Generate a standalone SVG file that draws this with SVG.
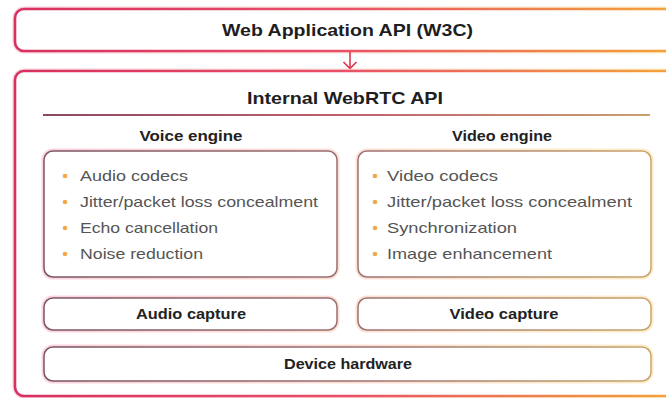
<svg xmlns="http://www.w3.org/2000/svg" width="666" height="398" viewBox="0 0 666 398">
<defs>
<linearGradient id="gMain" gradientUnits="userSpaceOnUse" x1="15" y1="0" x2="666" y2="0">
<stop offset="0" stop-color="#d8305f"/>
<stop offset="0.5" stop-color="#e8506a"/>
<stop offset="1" stop-color="#f3a23a"/>
</linearGradient>
<linearGradient id="gInner" gradientUnits="userSpaceOnUse" x1="44" y1="0" x2="651" y2="0">
<stop offset="0" stop-color="#7a5563"/>
<stop offset="0.5" stop-color="#9a7072"/>
<stop offset="1" stop-color="#c9a46e"/>
</linearGradient>
<linearGradient id="gGlow" gradientUnits="userSpaceOnUse" x1="15" y1="0" x2="666" y2="0">
<stop offset="0" stop-color="#f7b4c8"/>
<stop offset="1" stop-color="#fbe2a8"/>
</linearGradient>
<linearGradient id="gDiv" gradientUnits="userSpaceOnUse" x1="43" y1="0" x2="650" y2="0">
<stop offset="0" stop-color="#8a4a5e"/>
<stop offset="0.5" stop-color="#c06070"/>
<stop offset="1" stop-color="#c9a070"/>
</linearGradient>
<marker id="arr" markerWidth="16" markerHeight="16" refX="11" refY="8" orient="auto" markerUnits="userSpaceOnUse">
<path d="M4,1.5 L10.5,8 L4,14.5" fill="none" stroke="#e0364f" stroke-width="1.7"/>
</marker>
</defs>
<style>
.outer{fill:#fff;stroke:url(#gMain);stroke-width:2.6}
.glow{fill:none;stroke:url(#gGlow);stroke-width:5;opacity:0.6}
.inner{fill:#fff;stroke:url(#gInner);stroke-width:1.5}
.title{font-family:"Liberation Sans",Arial,sans-serif;font-weight:bold;font-size:17px;fill:#1e1e1e;text-anchor:middle}
.sub{font-family:"Liberation Sans",Arial,sans-serif;font-weight:bold;font-size:15px;fill:#222;text-anchor:middle}
.item{font-family:"Liberation Sans",Arial,sans-serif;font-size:15px;fill:#555}
.dot{fill:#f2a84a}
</style>
<rect width="666" height="398" fill="#fff"/>

<g id="web-app-api">
<rect class="glow" x="15" y="9" width="670" height="42" rx="9"/>
<rect class="outer" x="15" y="9" width="670" height="42" rx="9"/>
<text class="title" x="347.5" y="36" textLength="251" lengthAdjust="spacingAndGlyphs">Web Application API (W3C)</text>
</g>

<g id="connectors">
<line x1="350" y1="52" x2="350" y2="69" stroke="#e0364f" stroke-width="1.6" marker-end="url(#arr)"/>
</g>

<g id="internal-webrtc">
<rect class="glow" x="15" y="71" width="670" height="325" rx="9"/>
<rect class="outer" x="15" y="71" width="670" height="325" rx="9"/>
<text class="title" x="345" y="104" textLength="196" lengthAdjust="spacingAndGlyphs">Internal WebRTC API</text>
<line x1="43" y1="115" x2="650" y2="115" stroke="url(#gDiv)" stroke-width="2"/>
</g>

<g id="voice-engine">
<text class="sub" x="191" y="141" textLength="103" lengthAdjust="spacingAndGlyphs">Voice engine</text>
<rect class="glow" x="44" y="151" width="293" height="126" rx="9"/>
<rect class="inner" x="44" y="151" width="293" height="126" rx="9"/>
<circle class="dot" cx="65" cy="176" r="2.3"/>
<text class="item" x="80" y="181" textLength="108" lengthAdjust="spacingAndGlyphs">Audio codecs</text>
<circle class="dot" cx="65" cy="202" r="2.3"/>
<text class="item" x="80" y="207" textLength="238" lengthAdjust="spacingAndGlyphs">Jitter/packet loss concealment</text>
<circle class="dot" cx="65" cy="228" r="2.3"/>
<text class="item" x="80" y="233" textLength="138" lengthAdjust="spacingAndGlyphs">Echo cancellation</text>
<circle class="dot" cx="65" cy="254" r="2.3"/>
<text class="item" x="80" y="259" textLength="123" lengthAdjust="spacingAndGlyphs">Noise reduction</text>
</g>

<g id="video-engine">
<text class="sub" x="502" y="141" textLength="100" lengthAdjust="spacingAndGlyphs">Video engine</text>
<rect class="glow" x="358" y="151" width="293" height="126" rx="9"/>
<rect class="inner" x="358" y="151" width="293" height="126" rx="9"/>
<circle class="dot" cx="375" cy="176" r="2.3"/>
<text class="item" x="387" y="181" textLength="111" lengthAdjust="spacingAndGlyphs">Video codecs</text>
<circle class="dot" cx="375" cy="202" r="2.3"/>
<text class="item" x="387" y="207" textLength="245" lengthAdjust="spacingAndGlyphs">Jitter/packet loss concealment</text>
<circle class="dot" cx="375" cy="228" r="2.3"/>
<text class="item" x="387" y="233" textLength="130" lengthAdjust="spacingAndGlyphs">Synchronization</text>
<circle class="dot" cx="375" cy="254" r="2.3"/>
<text class="item" x="387" y="259" textLength="165" lengthAdjust="spacingAndGlyphs">Image enhancement</text>
</g>

<g id="audio-capture">
<rect class="glow" x="44" y="298" width="293" height="32" rx="9"/>
<rect class="inner" x="44" y="298" width="293" height="32" rx="9"/>
<text class="sub" x="191" y="319" textLength="110" lengthAdjust="spacingAndGlyphs">Audio capture</text>
</g>

<g id="video-capture">
<rect class="glow" x="358" y="298" width="293" height="32" rx="9"/>
<rect class="inner" x="358" y="298" width="293" height="32" rx="9"/>
<text class="sub" x="504" y="319" textLength="109" lengthAdjust="spacingAndGlyphs">Video capture</text>
</g>

<g id="device-hardware">
<rect class="glow" x="44" y="347" width="607" height="34" rx="9"/>
<rect class="inner" x="44" y="347" width="607" height="34" rx="9"/>
<text class="sub" x="348" y="369" textLength="128" lengthAdjust="spacingAndGlyphs">Device hardware</text>
</g>
</svg>
